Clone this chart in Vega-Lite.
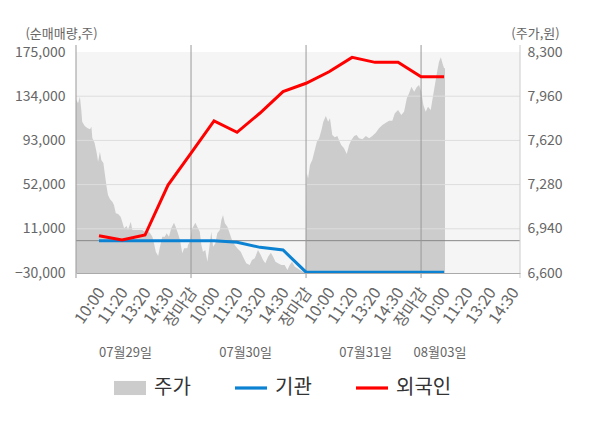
{
  "$schema": "https://vega.github.io/schema/vega-lite/v6.json",
  "width": 444,
  "height": 221,
  "autosize": {"type": "none"},
  "padding": {"left": 76, "top": 52, "right": 80, "bottom": 155},
  "config": {
    "font": "Noto Sans CJK KR",
    "view": {"fill": "#f5f5f5", "stroke": null},
    "axis": {"labelColor": "#666666", "titleColor": "#666666", "titleFontWeight": "normal"},
    "legend": {
      "orient": "none",
      "legendX": 38,
      "legendY": 320,
      "direction": "horizontal",
      "labelFontSize": 20,
      "labelColor": "#333333",
      "labelOffset": 8,
      "columnPadding": 44,
      "symbolSize": 1024
    }
  },
  "layer": [
    {
      "data": {
        "values": [
          {"u": 0, "p": 7936}, {"u": 0.09, "p": 7905}, {"u": 0.17, "p": 7956}, {"u": 0.23, "p": 7854},
          {"u": 0.27, "p": 7764}, {"u": 0.38, "p": 7731}, {"u": 0.49, "p": 7715}, {"u": 0.61, "p": 7705},
          {"u": 0.67, "p": 7725}, {"u": 0.71, "p": 7638}, {"u": 0.81, "p": 7600}, {"u": 0.9, "p": 7523},
          {"u": 0.96, "p": 7456}, {"u": 1.04, "p": 7533}, {"u": 1.1, "p": 7469}, {"u": 1.19, "p": 7446},
          {"u": 1.25, "p": 7367}, {"u": 1.33, "p": 7264}, {"u": 1.39, "p": 7200}, {"u": 1.48, "p": 7167},
          {"u": 1.58, "p": 7148}, {"u": 1.65, "p": 7123}, {"u": 1.73, "p": 7059}, {"u": 1.83, "p": 7054},
          {"u": 1.94, "p": 7033}, {"u": 2.01, "p": 6995}, {"u": 2.09, "p": 6944}, {"u": 2.2, "p": 6962},
          {"u": 2.26, "p": 6931}, {"u": 2.38, "p": 6995}, {"u": 2.45, "p": 6931}, {"u": 2.67, "p": 6931},
          {"u": 2.88, "p": 6931}, {"u": 2.99, "p": 6918}, {"u": 3.1, "p": 6931}, {"u": 3.22, "p": 6905},
          {"u": 3.32, "p": 6879}, {"u": 3.39, "p": 6828}, {"u": 3.47, "p": 6764}, {"u": 3.57, "p": 6731},
          {"u": 3.65, "p": 6802}, {"u": 3.75, "p": 6879}, {"u": 3.86, "p": 6879}, {"u": 3.94, "p": 6905},
          {"u": 4.04, "p": 6879}, {"u": 4.14, "p": 6944}, {"u": 4.26, "p": 6987}, {"u": 4.33, "p": 6956},
          {"u": 4.43, "p": 6905}, {"u": 4.52, "p": 6854}, {"u": 4.62, "p": 6752}, {"u": 4.7, "p": 6790},
          {"u": 4.84, "p": 6790}, {"u": 4.87, "p": 6815}, {"u": 4.96, "p": 6846}, {"u": 5.04, "p": 6938},
          {"u": 5.19, "p": 6987}, {"u": 5.27, "p": 6956}, {"u": 5.38, "p": 6918}, {"u": 5.45, "p": 6815},
          {"u": 5.52, "p": 6764}, {"u": 5.62, "p": 6777}, {"u": 5.71, "p": 6687}, {"u": 5.81, "p": 6815},
          {"u": 5.88, "p": 6918}, {"u": 5.96, "p": 6802}, {"u": 6.06, "p": 6828}, {"u": 6.14, "p": 6905},
          {"u": 6.25, "p": 6931}, {"u": 6.32, "p": 7008}, {"u": 6.39, "p": 7046}, {"u": 6.47, "p": 6982},
          {"u": 6.58, "p": 6956}, {"u": 6.68, "p": 6905}, {"u": 6.78, "p": 6854}, {"u": 6.9, "p": 6815},
          {"u": 7.01, "p": 6790}, {"u": 7.16, "p": 6764}, {"u": 7.26, "p": 6725}, {"u": 7.4, "p": 6675},
          {"u": 7.55, "p": 6662}, {"u": 7.65, "p": 6700}, {"u": 7.77, "p": 6713}, {"u": 7.91, "p": 6777},
          {"u": 8.03, "p": 6738}, {"u": 8.13, "p": 6700}, {"u": 8.23, "p": 6675}, {"u": 8.35, "p": 6725},
          {"u": 8.47, "p": 6756}, {"u": 8.57, "p": 6725}, {"u": 8.67, "p": 6687}, {"u": 8.78, "p": 6675},
          {"u": 8.93, "p": 6662}, {"u": 9.07, "p": 6662}, {"u": 9.19, "p": 6623}, {"u": 9.29, "p": 6662},
          {"u": 9.39, "p": 6687}, {"u": 9.51, "p": 6648}, {"u": 9.62, "p": 6636}, {"u": 9.73, "p": 6623},
          {"u": 9.87, "p": 6610}, {"u": 9.97, "p": 6600}, {"u": 10.03, "p": 7367}, {"u": 10.09, "p": 7328},
          {"u": 10.17, "p": 7431}, {"u": 10.27, "p": 7469}, {"u": 10.38, "p": 7546}, {"u": 10.47, "p": 7610},
          {"u": 10.57, "p": 7636}, {"u": 10.67, "p": 7700}, {"u": 10.75, "p": 7764}, {"u": 10.86, "p": 7808},
          {"u": 10.96, "p": 7764}, {"u": 11.04, "p": 7790}, {"u": 11.14, "p": 7662}, {"u": 11.25, "p": 7644},
          {"u": 11.36, "p": 7654}, {"u": 11.43, "p": 7623}, {"u": 11.53, "p": 7585}, {"u": 11.65, "p": 7559},
          {"u": 11.77, "p": 7515}, {"u": 11.87, "p": 7585}, {"u": 11.97, "p": 7623}, {"u": 12.09, "p": 7654},
          {"u": 12.2, "p": 7662}, {"u": 12.3, "p": 7636}, {"u": 12.45, "p": 7628}, {"u": 12.6, "p": 7654},
          {"u": 12.74, "p": 7636}, {"u": 12.88, "p": 7654}, {"u": 13.03, "p": 7679}, {"u": 13.17, "p": 7713},
          {"u": 13.32, "p": 7738}, {"u": 13.47, "p": 7756}, {"u": 13.61, "p": 7772}, {"u": 13.75, "p": 7772},
          {"u": 13.86, "p": 7828}, {"u": 14, "p": 7854}, {"u": 14.14, "p": 7815}, {"u": 14.26, "p": 7841},
          {"u": 14.38, "p": 7944}, {"u": 14.48, "p": 7982}, {"u": 14.58, "p": 8033}, {"u": 14.7, "p": 7995},
          {"u": 14.81, "p": 8028}, {"u": 14.91, "p": 8046}, {"u": 15.01, "p": 7995}, {"u": 15.1, "p": 7892},
          {"u": 15.2, "p": 7841}, {"u": 15.3, "p": 7879}, {"u": 15.42, "p": 7854}, {"u": 15.49, "p": 7931},
          {"u": 15.6, "p": 8046}, {"u": 15.68, "p": 8131}, {"u": 15.78, "p": 8225}, {"u": 15.86, "p": 8259},
          {"u": 15.93, "p": 8213}, {"u": 16, "p": 8175}, {"u": 16.04, "p": 8175}
        ]
      },
      "mark": {"type": "area", "opacity": 1},
      "encoding": {
        "x": {
          "field": "u",
          "type": "quantitative",
          "scale": {"domain": [0, 19.3], "nice": false, "zero": false},
          "axis": {
            "orient": "bottom",
            "values": [1, 2, 3, 4, 5, 6, 7, 8, 9, 10, 11, 12, 13, 14, 15, 16, 17, 18, 19],
            "labelExpr": "datum.value % 5 === 0 ? '장마감' : ['', '10:00', '11:20', '13:20', '14:30'][datum.value % 5]",
            "labelAngle": -55,
            "labelAlign": "right",
            "labelBaseline": "middle",
            "labelPadding": 16,
            "labelOffset": 2,
            "labelFontSize": 16,
            "labelOverlap": false,
            "labelFlush": false,
            "labelBound": false,
            "ticks": false,
            "tickSize": 0,
            "grid": false,
            "domain": true,
            "domainColor": "#aaaaaa",
            "title": null,
            "zindex": 1,
            "encode": {
              "labels": {
                "update": {
                  "fill": {"signal": "datum.value % 5 === 0 ? '#ff0000' : (datum.value === 16 ? '#222222' : '#888888')"}
                }
              }
            }
          }
        },
        "y": {
          "field": "p",
          "type": "quantitative",
          "scale": {"domain": [6600, 8300], "nice": false, "zero": false},
          "axis": {
            "orient": "right",
            "values": [6600, 6940, 7280, 7620, 7960, 8300],
            "format": ",d",
            "domain": false,
            "ticks": false,
            "tickSize": 0,
            "grid": false,
            "labelPadding": 7,
            "labelFontSize": 14,
            "title": "(주가,원)",
            "titleAngle": 0,
            "titleX": 15,
            "titleY": -19,
            "titleAlign": "center",
            "titleBaseline": "middle",
            "titleFontSize": 13
          }
        },
        "y2": {"datum": 6600},
        "color": {
          "datum": "주가",
          "type": "nominal",
          "scale": {"domain": ["주가", "기관", "외국인"], "range": ["#cccccc", "#0c82d3", "#ff0000"]},
          "legend": {
            "title": null,
            "encode": {
              "symbols": {
                "update": {
                  "shape": {"signal": "datum.value === '주가' ? 'M-1,-0.44H1V0.44H-1Z' : 'M-1,-0.1H1V0.1H-1Z'"},
                  "fill": {"signal": "scale('color', datum.value)"},
                  "stroke": {"value": "transparent"},
                  "strokeWidth": {"value": 0},
                  "opacity": {"value": 1}
                }
              }
            }
          }
        }
      }
    },
    {
      "data": {"values": [{"g": 11000}, {"g": 52000}, {"g": 93000}, {"g": 134000}]},
      "mark": {"type": "rule", "color": "#dddddd", "strokeWidth": 1},
      "encoding": {
        "y": {"field": "g", "type": "quantitative", "scale": {"domain": [-30000, 175000], "nice": false, "zero": false}, "axis": null}
      }
    },
    {
      "data": {"values": [{"g": 0}]},
      "mark": {"type": "rule", "color": "#888888", "strokeWidth": 1},
      "encoding": {
        "y": {"field": "g", "type": "quantitative", "scale": {"domain": [-30000, 175000], "nice": false, "zero": false}, "axis": null}
      }
    },
    {
      "data": {"values": [{"b": 0}, {"b": 5}, {"b": 10}, {"b": 15}]},
      "mark": {"type": "rule", "color": "#999999", "strokeWidth": 1},
      "encoding": {
        "x": {"field": "b", "type": "quantitative", "scale": {"domain": [0, 19.3], "nice": false, "zero": false}, "axis": null},
        "y": {"datum": -34700, "type": "quantitative", "scale": {"domain": [-30000, 175000], "nice": false, "zero": false}, "axis": null},
        "y2": {"datum": 181500}
      }
    },
    {
      "data": {"values": [{"b": 19.3}]},
      "mark": {"type": "rule", "color": "#cccccc", "strokeWidth": 1},
      "encoding": {
        "x": {"field": "b", "type": "quantitative", "scale": {"domain": [0, 19.3], "nice": false, "zero": false}, "axis": null},
        "y": {"datum": -34700, "type": "quantitative", "scale": {"domain": [-30000, 175000], "nice": false, "zero": false}, "axis": null},
        "y2": {"datum": 181500}
      }
    },
    {
      "data": {
        "values": [
          {"u": 1, "s": "기관", "v": 0}, {"u": 2, "s": "기관", "v": 0}, {"u": 3, "s": "기관", "v": 0},
          {"u": 4, "s": "기관", "v": 0}, {"u": 5, "s": "기관", "v": 0}, {"u": 6, "s": "기관", "v": 0},
          {"u": 7, "s": "기관", "v": -1500}, {"u": 8, "s": "기관", "v": -6200}, {"u": 9, "s": "기관", "v": -8700},
          {"u": 10, "s": "기관", "v": -29200}, {"u": 11, "s": "기관", "v": -29200}, {"u": 12, "s": "기관", "v": -29200},
          {"u": 13, "s": "기관", "v": -29200}, {"u": 14, "s": "기관", "v": -29200}, {"u": 15, "s": "기관", "v": -29200},
          {"u": 16, "s": "기관", "v": -29200},
          {"u": 1, "s": "외국인", "v": 4600}, {"u": 2, "s": "외국인", "v": 600}, {"u": 3, "s": "외국인", "v": 5200},
          {"u": 4, "s": "외국인", "v": 51600}, {"u": 5, "s": "외국인", "v": 81300}, {"u": 6, "s": "외국인", "v": 111000},
          {"u": 7, "s": "외국인", "v": 100500}, {"u": 8, "s": "외국인", "v": 118400}, {"u": 9, "s": "외국인", "v": 138200},
          {"u": 10, "s": "외국인", "v": 146000}, {"u": 11, "s": "외국인", "v": 156700}, {"u": 12, "s": "외국인", "v": 170000},
          {"u": 13, "s": "외국인", "v": 165400}, {"u": 14, "s": "외국인", "v": 165400}, {"u": 15, "s": "외국인", "v": 152000},
          {"u": 16, "s": "외국인", "v": 152000}
        ]
      },
      "mark": {"type": "line", "strokeWidth": 3},
      "encoding": {
        "x": {
          "field": "u",
          "type": "quantitative",
          "scale": {"domain": [0, 19.3], "nice": false, "zero": false},
          "axis": {
            "orient": "bottom",
            "values": [2.13, 7.35, 12.57, 15.8],
            "labelExpr": "datum.value < 5 ? '07월29일' : (datum.value < 10 ? '07월30일' : (datum.value < 15 ? '07월31일' : '08월03일'))",
            "labelAngle": 0,
            "labelAlign": "center",
            "labelBaseline": "top",
            "labelPadding": 73,
            "labelFontSize": 13,
            "labelOverlap": false,
            "labelFlush": false,
            "labelBound": false,
            "ticks": false,
            "tickSize": 0,
            "domain": false,
            "grid": false,
            "title": null
          }
        },
        "y": {
          "field": "v",
          "type": "quantitative",
          "scale": {"domain": [-30000, 175000], "nice": false, "zero": false},
          "axis": {
            "orient": "left",
            "values": [-30000, 11000, 52000, 93000, 134000, 175000],
            "format": ",d",
            "domain": false,
            "ticks": false,
            "tickSize": 0,
            "grid": false,
            "labelPadding": 11,
            "labelFontSize": 14,
            "title": "(순매매량,주)",
            "titleAngle": 0,
            "titleX": -15,
            "titleY": -19,
            "titleAlign": "center",
            "titleBaseline": "middle",
            "titleFontSize": 13
          }
        },
        "color": {
          "field": "s",
          "type": "nominal",
          "scale": {"domain": ["주가", "기관", "외국인"], "range": ["#cccccc", "#0c82d3", "#ff0000"]},
          "legend": {
            "title": null,
            "encode": {
              "symbols": {
                "update": {
                  "shape": {"signal": "datum.value === '주가' ? 'M-1,-0.44H1V0.44H-1Z' : 'M-1,-0.1H1V0.1H-1Z'"},
                  "fill": {"signal": "scale('color', datum.value)"},
                  "stroke": {"value": "transparent"},
                  "strokeWidth": {"value": 0},
                  "opacity": {"value": 1}
                }
              }
            }
          }
        }
      }
    }
  ],
  "resolve": {"scale": {"y": "independent"}, "axis": {"x": "independent"}}
}
